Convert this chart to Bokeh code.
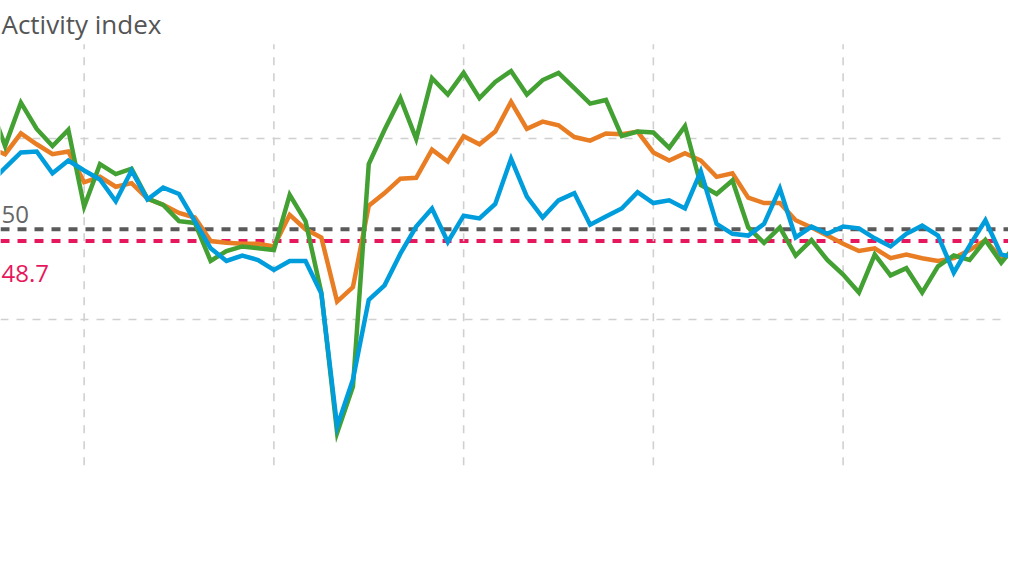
from bokeh.plotting import figure
from bokeh.models import Range1d, Grid, FixedTicker, Span, ColumnDataSource
from bokeh.core.properties import value
from bokeh.embed import file_html
from bokeh.resources import INLINE

# ---- data (month index; 0, 12, 24, ... are the year gridlines) ----
months = list(range(-6, 60))

green = [64.0, 59.2, 64.0, 61.1, 59.2, 61.0, 52.5, 57.2, 56.1, 56.7, 53.4, 52.7,
         50.9, 50.7, 46.5, 47.6, 48.1, 47.9, 47.7, 53.8, 50.9, 43.0, 27.5, 32.6,
         57.2, 61.0, 64.5, 60.0, 66.7, 64.9, 67.3, 64.5, 66.3, 67.5, 64.9, 66.5,
         67.3, 65.6, 63.9, 64.3, 60.3, 60.8, 60.7, 59.0, 61.4, 54.9, 53.9, 55.4,
         50.2, 48.5, 50.2, 47.1, 48.8, 46.6, 45.0, 43.0, 47.2, 44.9, 45.7, 43.0,
         45.9, 47.1, 46.6, 48.8, 46.3, 48.4]

orange = [59.0, 58.3, 60.6, 59.4, 58.3, 58.6, 55.2, 55.8, 54.7, 55.1, 53.4, 52.7,
          51.8, 51.3, 48.7, 48.5, 48.4, 48.4, 48.1, 51.6, 50.0, 49.1, 42.0, 43.6,
          52.6, 54.0, 55.6, 55.7, 58.8, 57.5, 60.3, 59.4, 60.8, 64.1, 61.1, 61.9,
          61.5, 60.2, 59.8, 60.6, 60.5, 60.8, 58.5, 57.6, 58.4, 57.6, 55.8, 56.2,
          53.5, 52.9, 52.9, 51.0, 50.2, 49.3, 48.4, 47.6, 47.9, 46.8, 47.2, 46.8,
          46.5, 46.8, 47.7, 48.8, 46.8, 47.5]

blue = [55.0, 56.8, 58.5, 58.6, 56.2, 57.6, 56.5, 55.5, 53.1, 56.5, 53.3, 54.6,
        53.9, 50.9, 47.9, 46.5, 47.1, 46.6, 45.5, 46.5, 46.5, 42.9, 28.2, 33.4,
        42.2, 43.8, 47.3, 50.3, 52.3, 48.6, 51.5, 51.2, 52.8, 57.8, 53.6, 51.3,
        53.2, 54.0, 50.5, 51.4, 52.3, 54.1, 52.9, 53.2, 52.3, 56.4, 50.6, 49.5,
        49.3, 50.6, 54.5, 49.1, 50.3, 49.5, 50.3, 50.1, 49.0, 48.1, 49.5, 50.4,
        49.3, 45.2, 48.2, 51.0, 47.2, 46.9]

year_ticks = [0, 12, 24, 36, 48]
value_ticks = [40, 60]
threshold = 50.0
average = 48.7
title_text = "Activity index"
threshold_label = "50"
average_label = "48.7"

# ---- view window (the reference shows a crop of a wider chart) ----
X_START, X_END = -5.29, 58.46
Y_START, Y_END = 13.37, 75.30
AXIS_MIN, AXIS_MAX = 23.9, 70.46

GRID_COLOR = "#d0d0d0"
C_GREEN = "#43a032"
C_ORANGE = "#e97d23"
C_BLUE = "#009ddc"
C_GRAY = "#5a5a5a"
C_RED = "#e6175c"
FONT = value("Open Sans")

p = figure(width=1008, height=560,
           x_range=Range1d(X_START, X_END), y_range=Range1d(Y_START, Y_END),
           output_backend="svg", toolbar_location=None,
           x_axis_location=None, y_axis_location=None,
           min_border=0, outline_line_color=None,
           background_fill_color="white", border_fill_color="white")
# drop the default grids; the chart's own grids are added below
p.xgrid.visible = False
p.ygrid.visible = False

# horizontal gridlines
hgrid = Grid(dimension=1, ticker=FixedTicker(ticks=value_ticks),
             grid_line_color=GRID_COLOR, grid_line_width=1.6, grid_line_dash="8 8")
p.add_layout(hgrid)

# vertical (year) gridlines, limited to the original chart's value axis extent
vsrc = ColumnDataSource(dict(x=year_ticks,
                             y0=[AXIS_MIN] * len(year_ticks),
                             y1=[AXIS_MAX] * len(year_ticks)))
p.segment(x0="x", y0="y0", x1="x", y1="y1", source=vsrc,
          line_color=GRID_COLOR, line_width=1.6, line_dash="8 8")

# reference lines
p.add_layout(Span(location=threshold, dimension="width", line_color=C_GRAY,
                  line_width=4, line_dash="9 8", level="underlay"))
p.add_layout(Span(location=average, dimension="width", line_color=C_RED,
                  line_width=4, line_dash="9 8", level="underlay"))

src = ColumnDataSource(dict(m=months, g=green, o=orange, b=blue))
p.line("m", "o", source=src, line_color=C_ORANGE, line_width=4.5, line_join="miter")
p.line("m", "g", source=src, line_color=C_GREEN, line_width=4.5, line_join="miter")
p.line("m", "b", source=src, line_color=C_BLUE, line_width=4.5, line_join="miter")

# texts, kept fully inside the picture at the left edge
LEFT = X_START + 0.06
p.text(x=[LEFT], y=[72.7], text=[title_text], text_font=FONT,
       text_font_size="26px", text_color="#555555",
       text_align="left", text_baseline="alphabetic")
p.text(x=[LEFT], y=[threshold + 1.65], text=[threshold_label], text_font=FONT,
       text_font_size="24px", text_color="#666666",
       text_align="left", text_baseline="alphabetic")
p.text(x=[LEFT], y=[average - 3.61], text=[average_label], text_font=FONT,
       text_font_size="24px", text_color=C_RED,
       text_align="left", text_baseline="alphabetic")

open("out.html", "w").write(file_html(p, INLINE))
